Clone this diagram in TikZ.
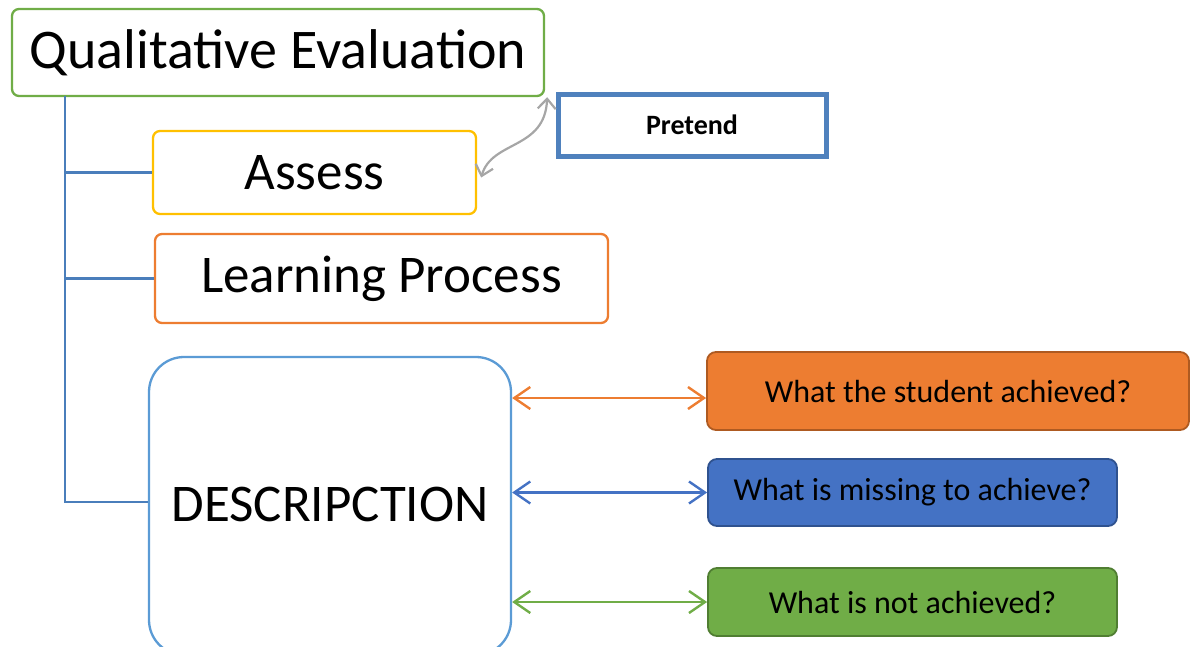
\documentclass[tikz,border=0pt]{standalone}
\usepackage{fontspec}
\setmainfont{Carlito}
\usepackage{tikz}
\usetikzlibrary{arrows.meta}
\definecolor{qgreen}{RGB}{112,173,71}
\definecolor{ayellow}{RGB}{255,192,0}
\definecolor{lorange}{RGB}{237,125,49}
\definecolor{dblue}{RGB}{91,155,213}
\definecolor{pblue}{RGB}{79,129,189}
\definecolor{treeblue}{RGB}{74,126,187}
\definecolor{sblue}{RGB}{68,114,196}
\definecolor{orangeedge}{RGB}{174,90,33}
\definecolor{blueedge}{RGB}{47,82,143}
\definecolor{greenedge}{RGB}{80,126,50}
\definecolor{arrowgrey}{RGB}{166,166,166}

\tikzset{
  box/.style={rounded corners=7pt, line width=2.3pt, fill=white, inner sep=0pt,
    font=\fontsize{53}{60}\selectfont},
  side/.style={rounded corners=9pt, line width=1.8pt, inner sep=0pt,
    font=\fontsize{32}{36}\selectfont},
  twoway/.style={{Straight Barb[length=16pt, width=22pt]}-{Straight Barb[length=16pt, width=22pt]},
    line width=2.4pt},
}

\begin{document}
\begin{tikzpicture}[x=1pt, y=-1pt]

\useasboundingbox (0,0) rectangle (1194,646);

\node[box, draw=qgreen, minimum width=532pt, minimum height=87pt,
  font=\fontsize{56}{60}\selectfont] (qual) at (278,52.5) {Qualitative Evaluation};
\node[box, draw=ayellow, minimum width=323pt, minimum height=83pt] (assess) at (314.5,172.5) {Assess};
\node[box, draw=lorange, minimum width=453pt, minimum height=89pt] (learn) at (381.5,278.5) {Learning Process};
\node[box, draw=dblue, rounded corners=35pt, minimum width=362pt, minimum height=298pt] (desc) at (330,506) {\raisebox{4pt}{DESCRIPCTION}};

\node[draw=pblue, line width=5pt, inner sep=0pt, minimum width=268pt, minimum height=62pt,
  font=\fontsize{28}{32}\selectfont\bfseries] (pretend) at (692,125) {Pretend};

\node[side, fill=lorange, draw=orangeedge, minimum width=482pt, minimum height=78pt] (achieved) at (948,391) {What the student achieved?};
\node[side, fill=sblue, draw=blueedge, minimum width=409pt, minimum height=67pt] (missing) at (912.5,492.5) {What is missing to achieve?};
\node[side, fill=qgreen, draw=greenedge, minimum width=409pt, minimum height=68pt] (notach) at (912.5,602) {What is not achieved?};

\coordinate (trunk) at (65,96);
\draw[treeblue, line width=2.3pt] (trunk) |- ([yshift=4pt]desc.west);
\draw[treeblue, line width=2.3pt] (trunk |- assess.west) -- (assess.west);
\draw[treeblue, line width=2.3pt] (trunk |- learn.west) -- (learn.west);

\draw[twoway, lorange] (desc.east |- 0,398) -- (achieved.west |- 0,398);
\draw[twoway, sblue] (desc.east |- missing.west) -- (missing.west);
\draw[twoway, qgreen] (desc.east |- notach.west) -- (notach.west);

\draw[{Straight Barb[length=10pt, width=18pt]}-{Straight Barb[length=10pt, width=18pt]},
  arrowgrey, line width=2.2pt]
  ([xshift=4pt, yshift=-5pt]assess.east) .. controls (492,140) and (545,150) .. ([xshift=2pt]qual.south east);

\end{tikzpicture}
\end{document}
